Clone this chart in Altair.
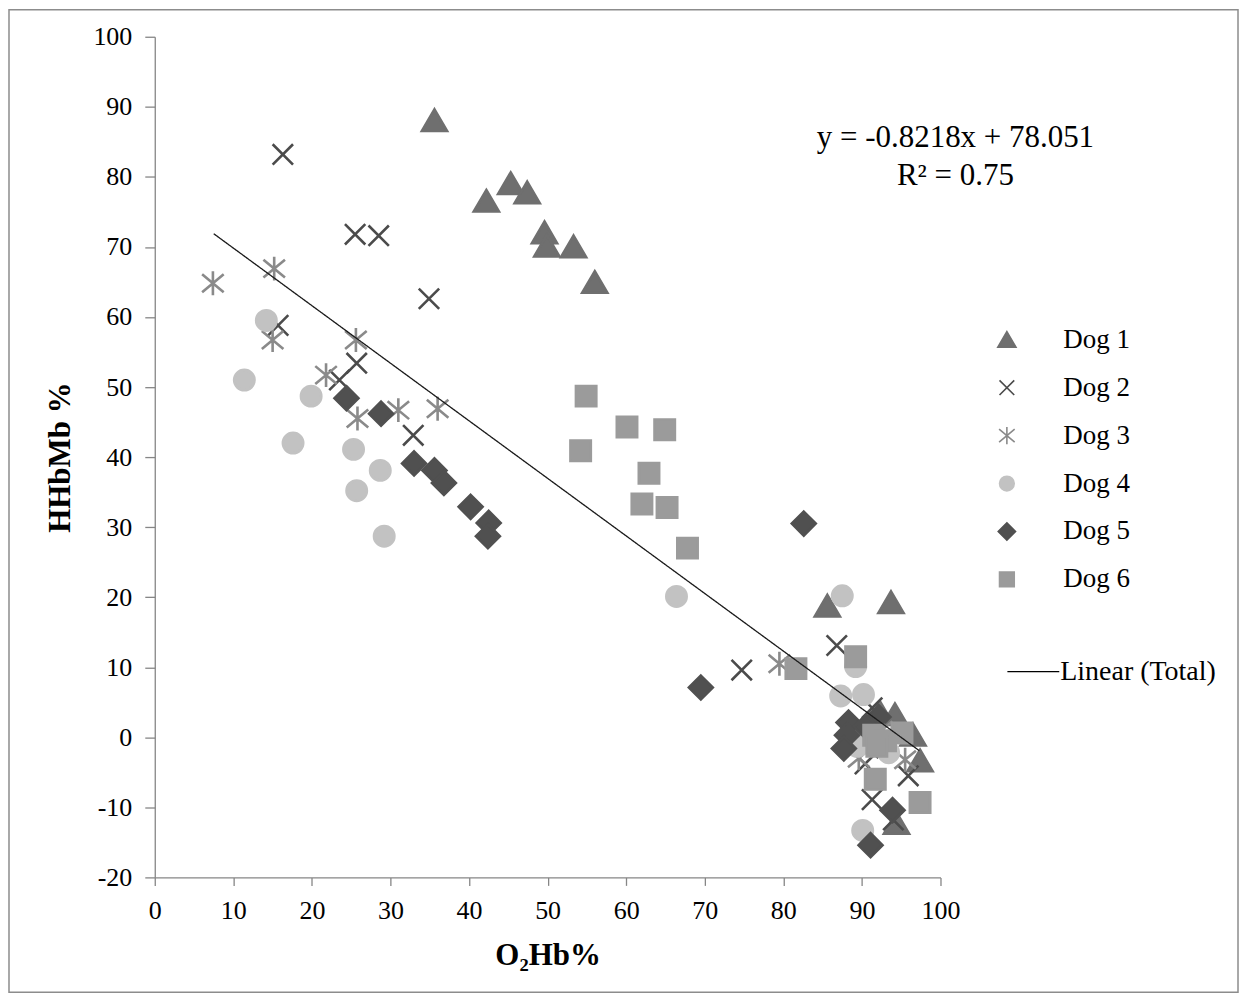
import altair as alt
import pandas as pd

# ---------------- data ----------------
dogs = ["Dog 1", "Dog 2", "Dog 3", "Dog 4", "Dog 5", "Dog 6"]

dog1_x = [35.6, 42.2, 45.3, 47.4, 49.6, 49.9, 53.3, 56.0, 85.6, 93.7, 92.3, 94.2, 96.5, 97.4, 94.4]
dog1_y = [88.0, 76.5, 79.0, 77.7, 72.0, 70.1, 70.0, 64.9, 18.7, 19.2, 3.5, 3.2, 0.3, -3.4, -12.3]

dog2_x = [16.3, 25.5, 28.5, 34.9, 15.7, 25.7, 23.5, 32.9, 74.7, 86.8, 91.3, 90.8, 90.4, 95.9, 91.3, 94.0]
dog2_y = [83.2, 71.8, 71.6, 62.6, 58.8, 53.4, 51.0, 43.1, 9.6, 13.1, 4.2, -1.5, -3.8, -5.5, -8.9, -11.8]

dog3_x = [7.4, 15.2, 15.0, 25.6, 21.8, 25.8, 31.0, 36.0, 79.5, 95.5, 89.6, 92.5]
dog3_y = [64.8, 66.9, 56.7, 56.7, 51.7, 45.5, 46.7, 46.9, 10.5, -3.2, -3.0, 1.0]

dog4_x = [14.2, 11.4, 19.9, 17.6, 25.3, 28.7, 25.7, 29.2, 66.4, 87.5, 89.2, 87.3, 90.2, 89.0, 89.4, 93.4, 90.1]
dog4_y = [59.5, 51.0, 48.7, 42.0, 41.1, 38.1, 35.2, 28.7, 20.1, 20.2, 10.1, 5.9, 6.1, 1.0, -1.3, -2.2, -13.3]

dog5_x = [24.4, 28.8, 33.0, 35.6, 36.8, 40.2, 42.5, 42.4, 69.5, 82.6, 88.3, 92.1, 90.5, 88.1, 87.7, 93.9, 91.1]
dog5_y = [48.4, 46.2, 39.1, 38.1, 36.3, 32.9, 30.6, 28.7, 7.1, 30.5, 2.1, 2.9, 1.5, 0.3, -1.6, -10.4, -15.4]

dog6_x = [54.9, 54.2, 60.1, 64.9, 62.9, 62.0, 65.2, 67.8, 81.6, 89.2, 91.5, 95.1, 93.0, 91.9, 91.7, 97.4]
dog6_y = [48.7, 40.9, 44.3, 43.9, 37.7, 33.3, 32.8, 27.0, 9.8, 11.5, 0.3, 0.6, -0.5, -1.3, -6.0, -9.3]

fit_label = "Linear (Total)"
fit_slope = -0.8218
fit_intercept = 78.051
fit_x = [7.5, 97.3]
eq_line1 = "y = -0.8218x + 78.051"
eq_line2 = "R² = 0.75"

x_ticks = list(range(0, 101, 10))
y_ticks = list(range(-20, 101, 10))

# ---------------- tables ----------------
xs = [dog1_x, dog2_x, dog3_x, dog4_x, dog5_x, dog6_x]
ys = [dog1_y, dog2_y, dog3_y, dog4_y, dog5_y, dog6_y]
rows = []
for d, xv, yv in zip(dogs, xs, ys):
    for a, b in zip(xv, yv):
        rows.append({"dog": d, "x": a, "y": b})
pts = pd.DataFrame(rows)

fit = pd.DataFrame({"x": fit_x, "series": [fit_label] * len(fit_x)})
fit["y"] = fit_slope * fit["x"] + fit_intercept

# ---------------- styles ----------------
colors = ["#6f6f6f", "#4b4b4b", "#8a8a8a", "#c2c2c2", "#505050", "#9b9b9b"]
shapes = [
    "M0,-0.95L1.05,0.85L-1.05,0.85Z",
    "M-0.85,-0.85L0.85,0.85M-0.85,0.85L0.85,-0.85",
    "M0,-1L0,1M-0.9,-0.75L0.9,0.75M-0.9,0.75L0.9,-0.75",
    "M0.85,0A0.85,0.85,0,1,1,-0.85,0A0.85,0.85,0,1,1,0.85,0Z",
    "M0,-1.0L1.0,0L0,1.0L-1.0,0Z",
    "M-0.85,-0.85L0.85,-0.85L0.85,0.85L-0.85,0.85Z",
]
FONT = "Liberation Serif"
NEG = "datum.value < 0 ? '-' + abs(datum.value) : '' + datum.value"

leg = alt.Legend(
    title=None, orient="none", legendX=840, legendY=290,
    labelFont=FONT, labelFontSize=27, labelColor="#000", labelLimit=400,
    symbolSize=300, symbolStrokeWidth=1.6, labelOffset=43,
    rowPadding=20, padding=0,
)

xenc = alt.X("x:Q", scale=alt.Scale(domain=[0, 100], nice=False),
             axis=alt.Axis(values=x_ticks, title="O₂Hb%", grid=False,
                           titleFontWeight="bold", titleFontSize=31, titleFont=FONT,
                           titleBaseline="alphabetic", titleY=87,
                           labelFont=FONT, labelFontSize=26, labelColor="#000",
                           labelExpr=NEG,
                           tickSize=8, labelPadding=12,
                           domainColor="#868686", tickColor="#868686",
                           domainWidth=1.3, tickWidth=1.3, labelFlush=False))
yenc = alt.Y("y:Q", scale=alt.Scale(domain=[-20, 100], nice=False),
             axis=alt.Axis(values=y_ticks, title="HHbMb %", grid=False,
                           titleFontWeight="bold", titleFontSize=31, titleFont=FONT,
                           titleX=-78,
                           labelFont=FONT, labelFontSize=26, labelColor="#000",
                           labelExpr=NEG,
                           tickSize=10, labelPadding=13,
                           domainColor="#868686", tickColor="#868686",
                           domainWidth=1.3, tickWidth=1.3, labelFlush=False))

points = alt.Chart(pts).mark_point(filled=True, size=576, strokeWidth=2.6, opacity=1).encode(
    x=xenc,
    y=yenc,
    fill=alt.Fill("dog:N", scale=alt.Scale(domain=dogs, range=colors), legend=leg),
    stroke=alt.Stroke("dog:N", scale=alt.Scale(domain=dogs, range=colors), legend=leg),
    shape=alt.Shape("dog:N", scale=alt.Scale(domain=dogs, range=shapes), legend=leg),
)

line = alt.Chart(fit).mark_line(color="#1a1a1a", strokeWidth=1.3).encode(
    x="x:Q",
    y="y:Q",
    strokeDash=alt.StrokeDash(
        "series:N",
        scale=alt.Scale(domain=[fit_label], range=[[1, 0]]),
        legend=alt.Legend(title=None, orient="none", legendX=853, legendY=609,
                          symbolType="stroke", symbolStrokeColor="#000",
                          symbolSize=2700, symbolStrokeWidth=1.3,
                          labelFont=FONT, labelFontSize=28, labelColor="#000",
                          labelLimit=400, labelOffset=0, padding=0),
    ),
)

eq1 = alt.Chart(pd.DataFrame({"t": [eq_line1]})).mark_text(
    font=FONT, fontSize=31, color="#000", align="center", baseline="alphabetic"
).encode(text="t:N", x=alt.value(802), y=alt.value(110))

eq2 = alt.Chart(pd.DataFrame({"t": [eq_line2]})).mark_text(
    font=FONT, fontSize=31, color="#000", align="center", baseline="alphabetic"
).encode(text="t:N", x=alt.value(802), y=alt.value(148))

border = alt.Chart(pd.DataFrame({"k": [0]})).mark_rect(
    fill=None, stroke="#8c8c8c", strokeWidth=1.5
).encode(x=alt.value(-146), x2=alt.value(1085), y=alt.value(-27), y2=alt.value(957))

chart = alt.layer(border, points, line, eq1, eq2).properties(
    width=787, height=842,
    autosize=alt.AutoSizeParams(type="none"),
    padding={"left": 147, "top": 28, "right": 301, "bottom": 118},
    background="white",
).configure_view(stroke=None)

chart.save("out.html", embed_options={"renderer": "svg", "actions": False})
